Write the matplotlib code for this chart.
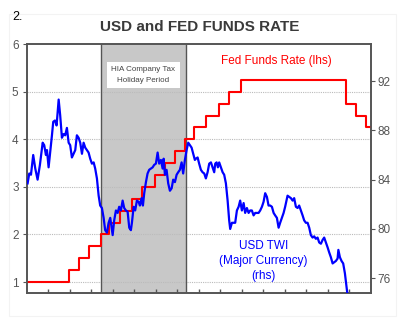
import matplotlib
matplotlib.use("Agg")
import matplotlib.pyplot as plt
from matplotlib.patches import Rectangle

plt.rcParams['font.family'] = ['Liberation Sans', 'DejaVu Sans']

# ---- Data ----
# Fed funds target rate: change dates (decimal years) and new levels (%)
ffr_dates = [2004.0, 2004.495, 2004.607, 2004.721, 2004.858, 2004.951,
             2005.088, 2005.219, 2005.334, 2005.493, 2005.603, 2005.718,
             2005.833, 2005.948, 2006.082, 2006.236, 2006.353, 2006.490,
             2007.712, 2007.830, 2007.942, 2008.0]
ffr_rates = [1.00, 1.25, 1.50, 1.75, 2.00, 2.25,
             2.50, 2.75, 3.00, 3.25, 3.50, 3.75,
             4.00, 4.25, 4.50, 4.75, 5.00, 5.25,
             4.75, 4.50, 4.25, 4.25]

# USD trade-weighted index (major currencies), weekly-ish observations
twi_dates = [
    2004.008, 2004.027, 2004.047, 2004.073, 2004.097, 2004.124, 2004.151, 2004.183,
    2004.201, 2004.221, 2004.233, 2004.252, 2004.267, 2004.291, 2004.306, 2004.326,
    2004.345, 2004.369, 2004.387, 2004.407, 2004.427, 2004.445, 2004.465, 2004.485,
    2004.503, 2004.523, 2004.543, 2004.562, 2004.581, 2004.601, 2004.620, 2004.640,
    2004.659, 2004.678, 2004.698, 2004.717, 2004.736, 2004.756, 2004.776, 2004.794,
    2004.814, 2004.834, 2004.852, 2004.872, 2004.892, 2004.910, 2004.930, 2004.950,
    2004.969, 2004.977, 2004.997, 2005.015, 2005.035, 2005.055, 2005.073, 2005.093,
    2005.113, 2005.131, 2005.151, 2005.171, 2005.190, 2005.209, 2005.221, 2005.241,
    2005.259, 2005.279, 2005.299, 2005.314, 2005.334, 2005.349, 2005.364, 2005.384,
    2005.403, 2005.422, 2005.442, 2005.462, 2005.480, 2005.500, 2005.520, 2005.538,
    2005.558, 2005.578, 2005.590, 2005.605, 2005.624, 2005.643, 2005.663, 2005.683,
    2005.701, 2005.721, 2005.741, 2005.759, 2005.779, 2005.799, 2005.817, 2005.837,
    2005.857, 2005.876, 2005.895, 2005.915, 2005.934, 2005.953, 2005.965, 2005.985,
    2006.003, 2006.023, 2006.043, 2006.062, 2006.081, 2006.101, 2006.120, 2006.140,
    2006.159, 2006.178, 2006.190, 2006.206, 2006.221, 2006.236, 2006.256, 2006.276,
    2006.294, 2006.314, 2006.334, 2006.352, 2006.364, 2006.384, 2006.403, 2006.422,
    2006.442, 2006.462, 2006.480, 2006.500, 2006.520, 2006.538, 2006.558, 2006.578,
    2006.597, 2006.616, 2006.636, 2006.655, 2006.674, 2006.694, 2006.713, 2006.733,
    2006.752, 2006.771, 2006.791, 2006.810, 2006.829, 2006.849, 2006.869, 2006.887,
    2006.907, 2006.927, 2006.945, 2006.965, 2006.985, 2007.003, 2007.031, 2007.050,
    2007.070, 2007.090, 2007.108, 2007.128, 2007.148, 2007.166, 2007.186, 2007.206,
    2007.224, 2007.244, 2007.264, 2007.283, 2007.302, 2007.322, 2007.341, 2007.360,
    2007.380, 2007.399, 2007.419, 2007.438, 2007.457, 2007.477, 2007.497, 2007.515,
    2007.535, 2007.555, 2007.573, 2007.593, 2007.613, 2007.622, 2007.640, 2007.659,
    2007.678, 2007.698, 2007.717, 2007.729]
twi_values = [
    83.7, 84.5, 84.4, 86.0, 84.9, 84.0, 85.2, 87.0,
    86.8, 86.0, 86.4, 85.0, 86.0, 87.6, 88.7, 88.8,
    88.4, 90.5, 89.2, 87.4, 87.7, 87.6, 88.2, 87.0,
    86.8, 85.8, 86.1, 86.4, 87.6, 87.4, 87.0, 86.1,
    87.0, 86.6, 86.4, 86.2, 85.7, 85.3, 85.4, 84.9,
    84.1, 82.7, 81.9, 81.7, 80.9, 79.9, 79.7, 80.5,
    80.9, 80.5, 79.5, 80.7, 81.5, 81.3, 81.8, 81.5,
    82.3, 81.7, 81.5, 81.4, 80.1, 79.9, 80.5, 81.8,
    81.5, 82.3, 82.2, 81.9, 82.5, 81.9, 82.9, 83.8,
    84.5, 84.8, 84.9, 85.0, 85.2, 85.3, 86.2, 85.3,
    85.6, 84.9, 85.7, 84.4, 84.8, 83.7, 83.1, 83.3,
    84.0, 83.8, 84.4, 84.6, 84.8, 85.4, 84.5, 85.6,
    86.4, 87.0, 86.8, 86.6, 86.1, 85.6, 85.7, 85.8,
    85.3, 84.8, 84.6, 84.5, 84.1, 84.6, 85.3, 85.4,
    85.0, 84.6, 85.3, 85.4, 85.0, 85.4, 85.0, 84.6,
    84.4, 83.7, 82.3, 80.7, 80.0, 80.5, 80.5, 80.5,
    81.5, 81.8, 82.3, 81.5, 82.1, 81.3, 81.7, 81.3,
    81.5, 81.5, 81.1, 81.3, 81.3, 81.3, 81.5, 81.8,
    82.2, 82.9, 82.6, 81.9, 81.9, 81.8, 81.3, 81.1,
    80.9, 80.1, 80.5, 80.9, 81.3, 81.8, 82.7, 82.6,
    82.5, 82.3, 82.5, 81.8, 81.7, 81.9, 81.5, 81.1,
    80.7, 80.5, 80.5, 80.1, 79.5, 79.3, 79.4, 79.2,
    79.3, 78.9, 78.8, 79.1, 79.3, 78.9, 78.5, 78.1,
    77.7, 77.2, 77.3, 77.4, 77.6, 78.3, 77.7, 77.4,
    77.2, 76.4, 75.3, 74.6]

hia_period = (2004.865, 2005.845)

year_labels = ['2004', '2005', '2006', '2007']
left_ticks = [1, 2, 3, 4, 5, 6]
right_ticks = [76, 80, 84, 88, 92]

# ---- Figure ----
fig = plt.figure(figsize=(4.08, 3.22), dpi=100)
fig.patch.set_facecolor('white')
ax = fig.add_axes([0.066, 0.090, 0.843, 0.773])
ax2 = ax.twinx()

spine_col = '#555555'
tick_col = '#555555'

# faint outer frame
fig.patches.append(Rectangle((0.022, 0.02), 0.948, 0.935, transform=fig.transFigure,
                             fill=False, edgecolor='#f3f3f3', linewidth=0.8, zorder=-5))

# shaded HIA period
ax.axvspan(hia_period[0], hia_period[1], facecolor='#c8c8c8', edgecolor='none', zorder=0)
for xv in hia_period:
    ax.axvline(xv, color='#555555', linewidth=1.0, zorder=1)

# gridlines at left ticks
for yv in left_ticks[:-1]:
    ax.axhline(yv, color='#bbbbbb', linewidth=0.8, linestyle=(0, (1, 1)), zorder=0.5)

# Fed funds rate
ax.step(ffr_dates, ffr_rates, where='post', color='#ff0000', linewidth=1.5, zorder=3)

# TWI
ax2.plot(twi_dates, twi_values, color='#0000ff', linewidth=1.6, zorder=3)

ax.set_xlim(2004.0, 2008.0)
ax.set_ylim(0.77, 6.0)
ax2.set_ylim(74.8, 95.0)

# x ticks: quarters (marks), labels at mid-year
quarters = [2004 + q * 0.25 for q in range(1, 16)]
ax.set_xticks(quarters)
ax.set_xticklabels([])
ax.set_xticks([2004.5, 2005.5, 2006.5, 2007.5], minor=True)
ax.set_xticklabels(year_labels, minor=True)
ax.tick_params(axis='x', which='major', direction='in', length=3, color=tick_col, width=1)
ax.tick_params(axis='x', which='minor', length=0, pad=5, labelsize=8.5, labelcolor='#555555')

ax.set_yticks(left_ticks)
ax.tick_params(axis='y', direction='out', length=3, color=tick_col, labelsize=8.5,
               labelcolor='#555555', pad=3)
ax2.set_yticks(right_ticks)
ax2.tick_params(axis='y', direction='out', length=3, color=tick_col, labelsize=8.5,
                labelcolor='#555555', pad=2)

for a in (ax, ax2):
    for s in a.spines.values():
        s.set_color(spine_col)
        s.set_linewidth(1.2)

# texts
fig.text(0.49, 0.917, 'USD and FED FUNDS RATE', ha='center', va='center',
         fontsize=11, fontweight='bold', color='#3a3a3a')
fig.text(0.030, 0.947, '2.', ha='left', va='center', fontsize=9, color='black')

ax.text(2005.355, 5.35, 'HIA Company Tax\nHoliday Period', ha='center', va='center',
        fontsize=5.8, color='#444444', linespacing=1.8,
        bbox=dict(facecolor='white', edgecolor='none', pad=3))

ax.text(2006.9, 5.65, 'Fed Funds Rate (lhs)', ha='center', va='center',
        fontsize=8.5, color='#ff0000')
ax2.text(2006.75, 77.4, 'USD TWI\n(Major Currency)\n(rhs)', ha='center', va='center',
         fontsize=8.5, color='#0000ff', linespacing=1.35)

fig.savefig('out.png', dpi=100, facecolor='white')
